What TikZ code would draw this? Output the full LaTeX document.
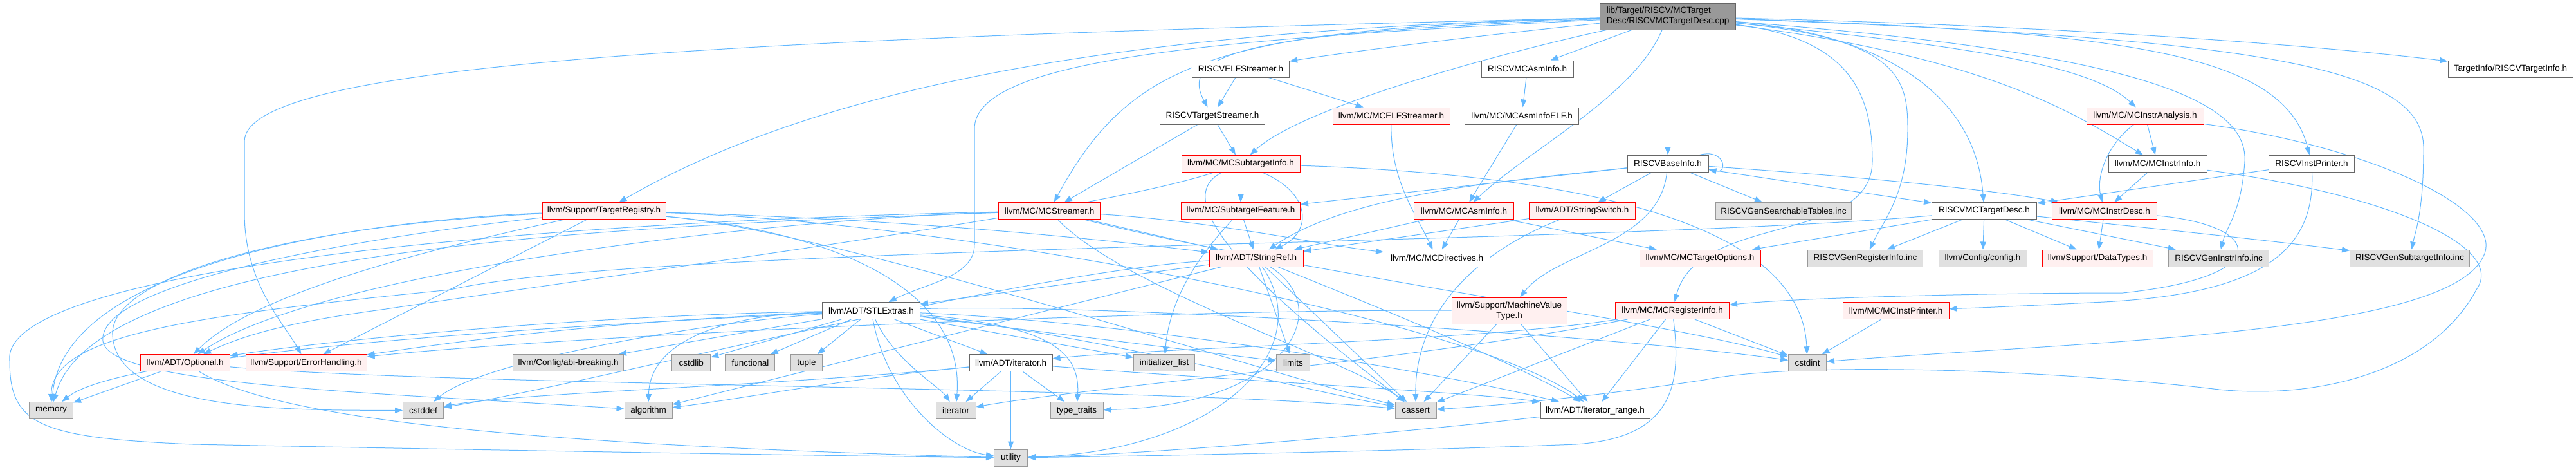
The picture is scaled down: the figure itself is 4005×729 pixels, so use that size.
\documentclass[tikz,border=0pt]{standalone}
\usepackage{fontspec}
\setmainfont{Liberation Sans}
\usetikzlibrary{arrows.meta}
\definecolor{edgec}{HTML}{63B8FF}
\definecolor{redf}{HTML}{FFF0F0}
\definecolor{grayb}{HTML}{999999}
\definecolor{grayf}{HTML}{E0E0E0}
\definecolor{whiteb}{HTML}{666666}
\definecolor{mainf}{HTML}{999999}
\pgfdeclarelayer{bg}
\pgfsetlayers{bg,main}
\tikzset{
  base/.style={draw, line width=1pt, inner sep=0pt, minimum height=26pt, font=\fontsize{13.5pt}{16pt}\selectfont, text=black, anchor=center},
  wbox/.style={base, draw=whiteb, fill=white},
  rbox/.style={base, draw=red, fill=redf},
  gbox/.style={base, draw=grayb, fill=grayf},
  mbox/.style={base, draw=whiteb, fill=mainf},
  dep/.style={draw=edgec, line width=1pt, -{Triangle[length=12pt,width=9pt]}, fill=none},
}
\begin{document}
\begin{tikzpicture}[x=1pt,y=-1pt]
\useasboundingbox (0,0) rectangle (4005,729);
% ---------- nodes ----------
\node[mbox, minimum width=211pt, minimum height=41pt, align=left] (main) at (2593,25.5) {lib/Target/RISCV/MCTarget\\Desc/RISCVMCTargetDesc.cpp};
\node[wbox, minimum width=151pt] (elf) at (1929,107) {RISCVELFStreamer.h};
\node[wbox, minimum width=143pt] (mcasm) at (2374.5,107) {RISCVMCAsmInfo.h};
\node[wbox, minimum width=194pt] (tinfo) at (3903,107) {TargetInfo/RISCVTargetInfo.h};
\node[wbox, minimum width=163pt] (tstr) at (1885,180) {RISCVTargetStreamer.h};
\node[rbox, minimum width=182pt] (mcelf) at (2163,180) {llvm/MC/MCELFStreamer.h};
\node[wbox, minimum width=177pt] (asmelf) at (2366,180) {llvm/MC/MCAsmInfoELF.h};
\node[rbox, minimum width=182pt] (ianal) at (3335,180) {llvm/MC/MCInstrAnalysis.h};
\node[rbox, minimum width=184pt] (sti) at (1929,254) {llvm/MC/MCSubtargetInfo.h};
\node[wbox, minimum width=126pt] (base) at (2593,254) {RISCVBaseInfo.h};
\node[wbox, minimum width=153pt] (iinfo) at (3354.5,254) {llvm/MC/MCInstrInfo.h};
\node[wbox, minimum width=133pt] (iprint) at (3594,254) {RISCVInstPrinter.h};
\node[rbox, minimum width=192pt] (treg) at (939,327.5) {llvm/Support/TargetRegistry.h};
\node[rbox, minimum width=158pt] (mcstr) at (1631.5,327.5) {llvm/MC/MCStreamer.h};
\node[rbox, minimum width=185pt] (sfeat) at (1929,327.5) {llvm/MC/SubtargetFeature.h};
\node[rbox, minimum width=155pt] (masm) at (2276,327.5) {llvm/MC/MCAsmInfo.h};
\node[rbox, minimum width=165pt] (sswitch) at (2460,327.5) {llvm/ADT/StringSwitch.h};
\node[gbox, minimum width=211pt] (gsearch) at (2773,327.5) {RISCVGenSearchableTables.inc};
\node[wbox, minimum width=163pt] (tdesc) at (3085,327.5) {RISCVMCTargetDesc.h};
\node[rbox, minimum width=163pt] (idesc) at (3272,327.5) {llvm/MC/MCInstrDesc.h};
\node[rbox, minimum width=146pt] (sref) at (1953,401) {llvm/ADT/StringRef.h};
\node[wbox, minimum width=165pt] (mdir) at (2234,401) {llvm/MC/MCDirectives.h};
\node[rbox, minimum width=188pt] (mtopt) at (2643,401) {llvm/MC/MCTargetOptions.h};
\node[gbox, minimum width=179pt] (greg) at (2900,401) {RISCVGenRegisterInfo.inc};
\node[gbox, minimum width=137pt] (config) at (3082.5,401) {llvm/Config/config.h};
\node[rbox, minimum width=172pt] (dtypes) at (3261,401) {llvm/Support/DataTypes.h};
\node[gbox, minimum width=156pt] (ginstr) at (3449.5,401) {RISCVGenInstrInfo.inc};
\node[gbox, minimum width=186pt] (gsub) at (3746.5,401) {RISCVGenSubtargetInfo.inc};
\node[wbox, minimum width=152pt] (stl) at (1354.6,482.5) {llvm/ADT/STLExtras.h};
\node[rbox, minimum width=179pt, minimum height=41pt, align=center] (mvt) at (2346.5,482.5) {llvm/Support/MachineValue\\Type.h};
\node[rbox, minimum width=177pt] (mreg) at (2600,482.5) {llvm/MC/MCRegisterInfo.h};
\node[rbox, minimum width=165pt] (mprint) at (2947.6,482.5) {llvm/MC/MCInstPrinter.h};
\node[rbox, minimum width=139pt] (opt) at (287.6,563.7) {llvm/ADT/Optional.h};
\node[rbox, minimum width=188pt] (err) at (476,563.7) {llvm/Support/ErrorHandling.h};
\node[gbox, minimum width=172pt] (abi) at (883.6,563.7) {llvm/Config/abi-breaking.h};
\node[gbox, minimum width=60pt] (cstdlib) at (1074.7,563.7) {cstdlib};
\node[gbox, minimum width=77pt] (functional) at (1166.4,563.7) {functional};
\node[gbox, minimum width=49pt] (tuple) at (1254,563.7) {tuple};
\node[wbox, minimum width=129pt] (iterh) at (1571.5,563.7) {llvm/ADT/iterator.h};
\node[gbox, minimum width=95pt] (initl) at (1810,563.7) {initializer\_list};
\node[gbox, minimum width=52pt] (limits) at (2010.5,563.7) {limits};
\node[gbox, minimum width=59pt] (cstdint) at (2810,563.7) {cstdint};
\node[gbox, minimum width=68pt] (memory) at (79.6,637.5) {memory};
\node[gbox, minimum width=63pt] (cstddef) at (658,637.5) {cstddef};
\node[gbox, minimum width=74pt] (algorithm) at (1008,637.5) {algorithm};
\node[gbox, minimum width=62pt] (iterator) at (1486,637.5) {iterator};
\node[gbox, minimum width=82pt] (typetraits) at (1674,637.5) {type\_traits};
\node[gbox, minimum width=64pt] (cassert) at (2201,637.5) {cassert};
\node[wbox, minimum width=170pt] (irange) at (2480,637.5) {llvm/ADT/iterator\_range.h};
\node[gbox, minimum width=52pt] (utility) at (1571.5,711) {utility};
% ---------- edges ----------
\begin{pgfonlayer}{bg}
% main
\draw[dep] (main) .. controls (1800,45) and (1300,120) .. (treg);
\draw[dep] (main) .. controls (1100,60) and (380,100) .. (380,220) -- (380,330) .. controls (380,440) and (440,500) .. (err);
\draw[dep] (main) .. controls (1900,60) and (1515,90) .. (1515,200) -- (1515,380) .. controls (1515,430) and (1440,440) .. (stl);
\draw[dep] (main) .. controls (1900,45) and (1760,90) .. (mcstr);
\draw[dep] (main) .. controls (1950,50) and (1830,80) .. (tstr);
\draw[dep] (main) .. controls (2300,55) and (2100,80) .. (elf);
\draw[dep] (main) .. controls (2300,90) and (2020,170) .. (sti);
\draw[dep] (main) -- (mcasm);
\draw[dep] (main) .. controls (2540,150) and (2380,230) .. (masm);
\draw[dep] (main) -- (base);
\draw[dep] (main) .. controls (2880,60) and (2911,150) .. (2911,250) .. controls (2911,380) and (2640,330) .. (mreg);
\draw[dep] (main) .. controls (2950,60) and (2966,120) .. (2966,200) .. controls (2966,300) and (2930,340) .. (greg);
\draw[dep] (main) .. controls (2900,50) and (3070,130) .. (tdesc);
\draw[dep] (main) .. controls (3300,80) and (3495,150) .. (3490,250) .. controls (3485,330) and (3462,350) .. (ginstr);
\draw[dep] (main) .. controls (3500,60) and (3768,100) .. (3768,230) .. controls (3768,330) and (3755,360) .. (gsub);
\draw[dep] (main) .. controls (3050,70) and (3250,100) .. (ianal);
\draw[dep] (main) .. controls (3100,90) and (3230,180) .. (iinfo);
\draw[dep] (main) .. controls (3300,50) and (3550,80) .. (iprint);
\draw[dep] (main) .. controls (3200,40) and (3600,70) .. (tinfo);
% level 1-2
\draw[dep] (elf) -- (tstr);
\draw[dep] (elf) -- (mcelf);
\draw[dep] (mcasm) -- (asmelf);
\draw[dep] (tstr) -- (mcstr);
\draw[dep] (tstr) -- (sti);
\draw[dep] (mcelf) .. controls (2162,280) and (2200,330) .. (mdir);
\draw[dep] (asmelf) -- (masm);
\draw[dep] (ianal) .. controls (3270,230) and (3260,280) .. (idesc);
\draw[dep] (ianal) -- (iinfo);
\draw[dep] (ianal) .. controls (3700,230) and (3900,330) .. (3860,400) .. controls (3800,520) and (3250,530) .. (cstdint);
% MCSubtargetInfo
\draw[dep] (sti) -- (sfeat);
\draw[dep] (sti) .. controls (2040,300) and (2040,360) .. (sref);
\draw[dep] (sti) .. controls (1700,330) and (1000,420) .. (600,480) .. controls (450,500) and (380,520) .. (opt);
\draw[dep] (sti) .. controls (1790,320) and (2050,520) .. (cassert);
\draw[dep] (sti) .. controls (2400,270) and (2800,330) .. (cstdint);
% RISCVBaseInfo
\draw[dep] ([xshift=-14pt]base.north east) .. controls +(40,-10) and +(30,6) .. ([yshift=4pt]base.south east);
\draw[dep] (base) -- (sfeat);
\draw[dep] (base) -- (sswitch);
\draw[dep] (base) -- (gsearch);
\draw[dep] (base) -- (tdesc);
\draw[dep] (base) .. controls (2900,275) and (3100,295) .. (idesc);
\draw[dep] (base) .. controls (2350,280) and (2100,300) .. (sref);
\draw[dep] (base) .. controls (2580,380) and (2420,390) .. (mvt);
% MCInstrInfo
\draw[dep] (iinfo) -- (idesc);
\draw[dep] (iinfo) .. controls (3700,300) and (3900,380) .. (3850,450) .. controls (3780,580) and (3600,620) .. (3450,605) .. controls (3200,575) and (2800,560) .. (2650,590) .. controls (2450,620) and (2300,632) .. (cassert);
% RISCVInstPrinter
\draw[dep] (iprint) -- (tdesc);
\draw[dep] (iprint) .. controls (3600,400) and (3500,460) .. (3250,470) .. controls (3150,475) and (3080,478) .. (mprint);
% TargetRegistry
\draw[dep] (treg) .. controls (700,380) and (400,450) .. (opt);
\draw[dep] (treg) -- (err);
\draw[dep] (treg) .. controls (600,340) and (100,400) .. (memory);
\draw[dep] (treg) .. controls (450,350) and (170,430) .. (175,520) .. controls (180,640) and (450,637) .. (cstddef);
\draw[dep] (treg) .. controls (550,370) and (150,440) .. (160,530) .. controls (170,600) and (600,610) .. (algorithm);
\draw[dep] (treg) .. controls (1300,360) and (1900,560) .. (cassert);
\draw[dep] (treg) .. controls (1300,360) and (1500,450) .. (iterator);
\draw[dep] (treg) .. controls (1400,340) and (1700,370) .. (sref);
\draw[dep] (treg) .. controls (1500,345) and (2300,500) .. (irange);
% MCStreamer
\draw[dep] (mcstr) .. controls (1200,340) and (500,420) .. (opt);
\draw[dep] (mcstr) -- (sref);
\draw[dep] (mcstr) .. controls (1900,345) and (2050,380) .. (mdir);
\draw[dep] (mcstr) .. controls (1750,450) and (2100,560) .. (cassert);
\draw[dep] (mcstr) .. controls (2000,420) and (2600,500) .. (cstdint);
\draw[dep] (mcstr) .. controls (1000,350) and (150,380) .. (memory);
\draw[dep] (mcstr) .. controls (800,345) and (0,420) .. (15,560) .. controls (15,660) and (60,680) .. (300,690) .. controls (800,700) and (1300,708) .. (utility);
% SubtargetFeature
\draw[dep] (sfeat) -- (sref);
\draw[dep] (sfeat) .. controls (1880,380) and (1820,450) .. (initl);
% MCAsmInfo
\draw[dep] (masm) -- (sref);
\draw[dep] (masm) -- (mdir);
\draw[dep] (masm) -- (mtopt);
% StringSwitch
\draw[dep] (sswitch) -- (sref);
\draw[dep] (sswitch) .. controls (2300,390) and (2200,480) .. (cassert);
% RISCVMCTargetDesc.h
\draw[dep] (tdesc) -- (greg);
\draw[dep] (tdesc) -- (config);
\draw[dep] (tdesc) -- (dtypes);
\draw[dep] (tdesc) -- (ginstr);
\draw[dep] (tdesc) .. controls (3300,350) and (3500,370) .. (gsub);
\draw[dep] (tdesc) -- (mtopt);
\draw[dep] (tdesc) .. controls (2500,380) and (1000,380) .. (700,450) .. controls (300,490) and (80,520) .. (memory);
% MCInstrDesc
\draw[dep] (idesc) -- (dtypes);
\draw[dep] (idesc) .. controls (3520,350) and (3540,430) .. (3300,455) .. controls (3100,455) and (2800,462) .. (mreg);
% StringRef
\draw[dep] (sref) -- (stl);
\draw[dep] (sref) .. controls (2100,460) and (2350,560) .. (irange);
\draw[dep] (sref) -- (algorithm);
\draw[dep] (sref) -- (cassert);
\draw[dep] (sref) .. controls (1600,420) and (900,600) .. (cstddef);
\draw[dep] (sref) -- (limits);
\draw[dep] (sref) .. controls (2080,480) and (2000,630) .. (typetraits);
\draw[dep] (sref) .. controls (2050,540) and (1900,700) .. (utility);
% STLExtras
\draw[dep] (stl) .. controls (900,490) and (500,530) .. (opt);
\draw[dep] (stl) .. controls (900,500) and (650,540) .. (err);
\draw[dep] (stl) -- (abi);
\draw[dep] (stl) -- (cstdlib);
\draw[dep] (stl) -- (functional);
\draw[dep] (stl) -- (tuple);
\draw[dep] (stl) -- (iterh);
\draw[dep] (stl) -- (initl);
\draw[dep] (stl) -- (limits);
\draw[dep] (stl) .. controls (1700,470) and (2500,520) .. (cstdint);
\draw[dep] (stl) .. controls (1000,500) and (200,540) .. (memory);
\draw[dep] (stl) .. controls (1100,500) and (750,560) .. (cstddef);
\draw[dep] (stl) .. controls (1100,490) and (1010,540) .. (algorithm);
\draw[dep] (stl) .. controls (1390,560) and (1460,600) .. (iterator);
\draw[dep] (stl) .. controls (1620,505) and (1680,540) .. (typetraits);
\draw[dep] (stl) .. controls (1380,620) and (1480,700) .. (utility);
\draw[dep] (stl) .. controls (1700,520) and (2000,600) .. (cassert);
\draw[dep] (stl) .. controls (1750,500) and (2200,570) .. (irange);
% iterator.h
\draw[dep] (iterh) -- (iterator);
\draw[dep] (iterh) -- (typetraits);
\draw[dep] (iterh) -- (utility);
\draw[dep] (iterh) .. controls (1300,590) and (1150,620) .. (algorithm);
\draw[dep] (iterh) .. controls (1200,600) and (800,610) .. (cstddef);
\draw[dep] (iterh) .. controls (1900,590) and (2300,610) .. (irange);
% iterator_range
\draw[dep] (irange) .. controls (2200,670) and (1800,705) .. (utility);
% Optional
\draw[dep] (opt) -- (memory);
\draw[dep] (opt) .. controls (700,600) and (1800,600) .. (cassert);
\draw[dep] (opt) .. controls (430,650) and (800,690) .. (utility);
% MachineValueType
\draw[dep] (mvt) -- (irange);
\draw[dep] (mvt) -- (cassert);
\draw[dep] (mvt) .. controls (1800,480) and (900,520) .. (err);
% MCRegisterInfo
\draw[dep] (mreg) .. controls (2300,530) and (1800,540) .. (iterh);
\draw[dep] (mreg) -- (irange);
\draw[dep] (mreg) -- (cassert);
\draw[dep] (mreg) -- (cstdint);
\draw[dep] (mreg) .. controls (2200,560) and (1700,600) .. (iterator);
\draw[dep] (mreg) .. controls (2615,600) and (2600,680) .. (2450,690) .. controls (2200,700) and (1800,708) .. (utility);
% MCInstPrinter
\draw[dep] (mprint) -- (cstdint);
\end{pgfonlayer}
\end{tikzpicture}
\end{document}
